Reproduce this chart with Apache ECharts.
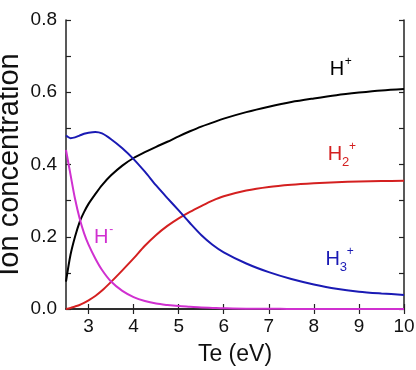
<!DOCTYPE html>
<html><head><meta charset="utf-8">
<script src="https://cdn.jsdelivr.net/npm/echarts@6/dist/echarts.min.js"></script>
<style>html,body{margin:0;padding:0;background:#fff}#c{width:416px;height:370px}</style>
</head><body><div id="c"></div>
<script>
const te = [2.5,2.6,2.7,2.8,2.9,3.0,3.15,3.3,3.5,3.75,4.0,4.25,4.5,4.75,5.0,5.25,5.5,5.75,6.0,6.5,7.0,7.5,8.0,8.5,9.0,9.5,10];
const hPlus = [0.076,0.15,0.2,0.24,0.268,0.291,0.318,0.343,0.37,0.397,0.418,0.434,0.449,0.463,0.478,0.492,0.505,0.516,0.527,0.545,0.56,0.573,0.583,0.592,0.599,0.605,0.609];
const h2Plus = [0.0,0.003,0.007,0.011,0.017,0.024,0.036,0.051,0.075,0.107,0.14,0.175,0.205,0.23,0.251,0.269,0.285,0.3,0.312,0.328,0.338,0.344,0.348,0.351,0.353,0.354,0.355];
const h3Plus = [0.48,0.473,0.475,0.48,0.485,0.488,0.49,0.486,0.47,0.445,0.415,0.38,0.342,0.307,0.273,0.238,0.205,0.178,0.157,0.126,0.102,0.083,0.068,0.056,0.048,0.043,0.039];
const hMinus = [0.44,0.372,0.305,0.252,0.21,0.178,0.14,0.108,0.076,0.05,0.033,0.022,0.015,0.011,0.008,0.006,0.004,0.003,0.002,0.001,0.001,0.0,0.0,0.0,0.0,0.0,0.0];
const xTicks = [3,4,5,6,7,8,9,10];
const yTicks = [0.0,0.2,0.4,0.6,0.8];

const FONT = 'Liberation Sans, Arial, sans-serif';
const seriesDefs = [
  {name:'H+', vals:hPlus, color:'#000000'},
  {name:'H2+', vals:h2Plus, color:'#d42020'},
  {name:'H3+', vals:h3Plus, color:'#1a1ab4'},
  {name:'H-', vals:hMinus, color:'#d030d0'}
];
const labels = [
  {main:'H', sub:'', sup:'+', color:'#000000', at:[8.51,0.662]},
  {main:'H', sub:'2', sup:'+', color:'#d42020', at:[8.47,0.427]},
  {main:'H', sub:'3', sup:'+', color:'#1a1ab4', at:[8.42,0.136]},
  {main:'H', sub:'', sup:'-', color:'#d030d0', at:[3.28,0.198]}
];

const chart = echarts.init(document.getElementById('c'), null, {renderer:'canvas'});
const axisLine = {show:true, lineStyle:{color:'#222', width:1.5}};
const tickStyle = {color:'#222', width:1.2};
const option = {
  animation:false,
  grid:{left:66, right:12, top:20, bottom:61, containLabel:false, outerBoundsMode:'none'},
  xAxis:[{
    type:'value', min:2.5, max:10, position:'bottom',
    axisLine, splitLine:{show:false},
    axisTick:{show:true, inside:true, length:5, customValues:xTicks, lineStyle:tickStyle},
    axisLabel:{customValues:xTicks, fontSize:19, color:'#111', fontFamily:FONT, margin:8},
    name:'Te (eV)', nameLocation:'middle', nameGap:34,
    nameTextStyle:{fontSize:23, color:'#111', fontFamily:FONT}
  },{
    type:'value', min:2.5, max:10, position:'top',
    axisLine, splitLine:{show:false},
    axisTick:{show:true, inside:true, length:5, customValues:xTicks, lineStyle:tickStyle},
    axisLabel:{show:false}
  }],
  yAxis:[{
    type:'value', min:0, max:0.8, interval:0.2, position:'left',
    axisLine, splitLine:{show:false},
    axisTick:{show:true, inside:true, length:5, lineStyle:tickStyle},
    minorTick:{show:true, splitNumber:2, length:5, lineStyle:tickStyle},
    axisLabel:{fontSize:19, color:'#111', fontFamily:FONT, margin:9, formatter:v=>v.toFixed(1)},
    name:'Ion concentration', nameLocation:'middle', nameGap:42, nameMoveOverlap:false,
    nameTextStyle:{fontSize:29, color:'#111', fontFamily:FONT}
  },{
    type:'value', min:0, max:0.8, interval:0.2, position:'right',
    axisLine, splitLine:{show:false},
    axisTick:{show:true, inside:true, length:5, lineStyle:tickStyle},
    minorTick:{show:true, splitNumber:2, length:5, lineStyle:tickStyle},
    axisLabel:{show:false}
  }],
  series: seriesDefs.map(s=>({
    type:'line', name:s.name, xAxisIndex:0, yAxisIndex:0,
    data: te.map((t,i)=>[t, s.vals[i]]),
    smooth:0.3, showSymbol:false, clip:true,
    lineStyle:{color:s.color, width:2}
  }))
};
chart.setOption(option);

const g = [];
labels.forEach(l=>{
  const p = chart.convertToPixel({xAxisIndex:0, yAxisIndex:0}, l.at);
  g.push({type:'text', x:p[0], y:p[1], style:{text:l.main, fill:l.color, font:'20px '+FONT, align:'center', verticalAlign:'middle'}});
  if (l.sub) g.push({type:'text', x:p[0]+7, y:p[1]+8, style:{text:l.sub, fill:l.color, font:'13px '+FONT, align:'left', verticalAlign:'middle'}});
  if (l.sup) g.push({type:'text', x:p[0]+(l.sub?14:8), y:p[1]-8, style:{text:l.sup, fill:l.color, font:'12px '+FONT, align:'left', verticalAlign:'middle'}});
});
chart.setOption({graphic:g});
</script></body></html>
